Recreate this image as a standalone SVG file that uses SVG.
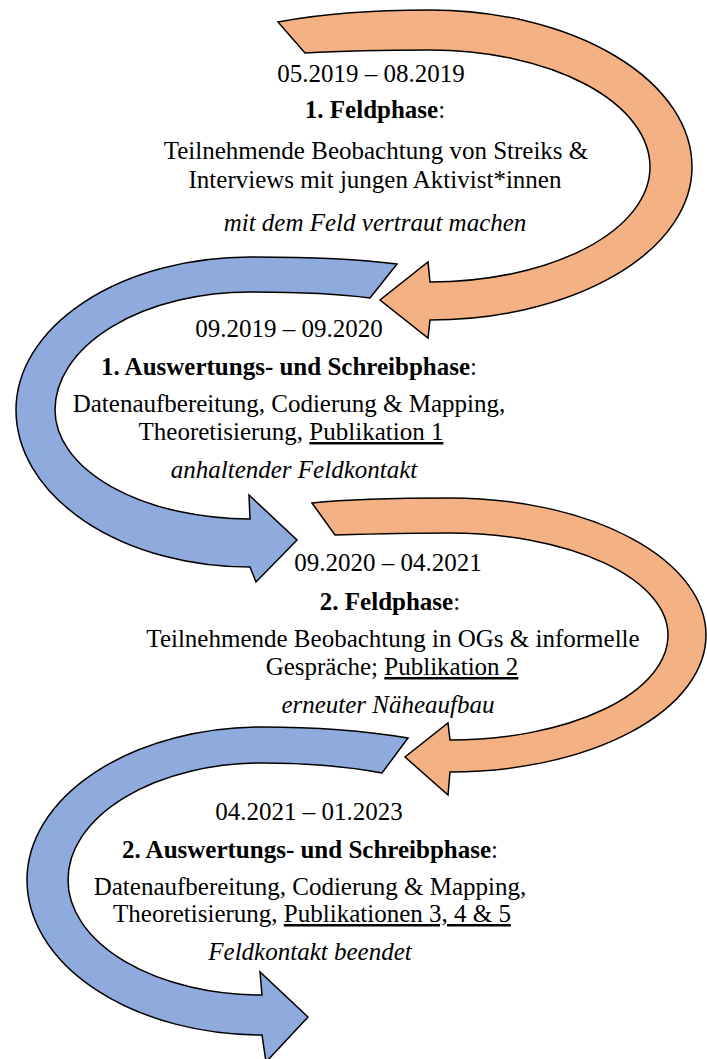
<svg xmlns="http://www.w3.org/2000/svg" width="707" height="1059" viewBox="0 0 707 1059">
<style>
.arrow{stroke:#000;stroke-width:1.5;stroke-linejoin:miter}
.orange{fill:#F4B183}
.blue{fill:#8FAADC}
.t text{fill:#000;text-anchor:middle}
.b{font-weight:bold}
.i{font-style:italic}
.u{text-decoration:underline}
</style>
<rect x="0" y="0" width="707" height="1059" fill="#fff"/>
<g id="phase1">
<path class="arrow orange" d="M278,22 C320,14 375,10 430,10 A262 157 0 0 1 692,167 A262 153 0 0 1 430,320 L428,338 L380,300 L428,262 L430,282 A220 115 0 0 0 650,167 A220 117 0 0 0 430,50 C385,50 340,51 305,53 Z"/>
<g class="t" font-family="'Liberation Serif', 'Times New Roman', Tinos, 'DejaVu Serif', serif" font-size="25">
<text x="371" y="82">05.2019 – 08.2019</text>
<text x="375" y="118"><tspan class="b">1. Feldphase</tspan>:</text>
<text x="376" y="159">Teilnehmende Beobachtung von Streiks &amp;</text>
<text x="375" y="188">Interviews mit jungen Aktivist*innen</text>
<text x="375" y="231" class="i">mit dem Feld vertraut machen</text>
</g>
</g>
<g id="phase2">
<path class="arrow blue" d="M397,264 C350,258 300,257 250,257 A234 153 0 0 0 16,410 A234 157 0 0 0 250,567 L256,582 L297,540 L249,495 L250,519 A195 109 0 0 1 55,410 A195 118 0 0 1 250,292 C300,292 340,294 370,298 Z"/>
<g class="t" font-family="'Liberation Serif', 'Times New Roman', Tinos, 'DejaVu Serif', serif" font-size="25">
<text x="289" y="337">09.2019 – 09.2020</text>
<text x="289" y="375"><tspan class="b">1. Auswertungs- und Schreibphase</tspan>:</text>
<text x="289" y="412">Datenaufbereitung, Codierung &amp; Mapping,</text>
<text x="291" y="440">Theoretisierung, <tspan class="u">Publikation 1</tspan></text>
<text x="294" y="478" class="i">anhaltender Feldkontakt</text>
</g>
</g>
<g id="phase3">
<path class="arrow orange" d="M312,503 C350,499 400,498 450,498 A256 137 0 0 1 706,635 A256 137 0 0 1 450,772 L448,795 L405,757 L448,723 L450,740 A218 105 0 0 0 668,635 A218 102 0 0 0 450,533 C410,533 370,534 335,535 Z"/>
<g class="t" font-family="'Liberation Serif', 'Times New Roman', Tinos, 'DejaVu Serif', serif" font-size="25">
<text x="388" y="571">09.2020 – 04.2021</text>
<text x="390" y="610"><tspan class="b">2. Feldphase</tspan>:</text>
<text x="393" y="647">Teilnehmende Beobachtung in OGs &amp; informelle</text>
<text x="392" y="675">Gespräche; <tspan class="u">Publikation 2</tspan></text>
<text x="388" y="713" class="i">erneuter Näheaufbau</text>
</g>
</g>
<g id="phase4">
<path class="arrow blue" d="M408,738 C360,730 310,727 262,727 A235 153 0 0 0 27,880 A235 155 0 0 0 262,1035 L266,1062 L308,1017 L260,972 L262,995 A194 115 0 0 1 68,880 A194 117 0 0 1 262,763 C310,763 350,767 382,773 Z"/>
<g class="t" font-family="'Liberation Serif', 'Times New Roman', Tinos, 'DejaVu Serif', serif" font-size="25">
<text x="309" y="820">04.2021 – 01.2023</text>
<text x="310" y="858"><tspan class="b">2. Auswertungs- und Schreibphase</tspan>:</text>
<text x="310" y="895">Datenaufbereitung, Codierung &amp; Mapping,</text>
<text x="312" y="922">Theoretisierung, <tspan class="u">Publikationen 3, 4 &amp; 5</tspan></text>
<text x="310" y="960" class="i">Feldkontakt beendet</text>
</g>
</g>
<g id="connectors"></g>
</svg>
